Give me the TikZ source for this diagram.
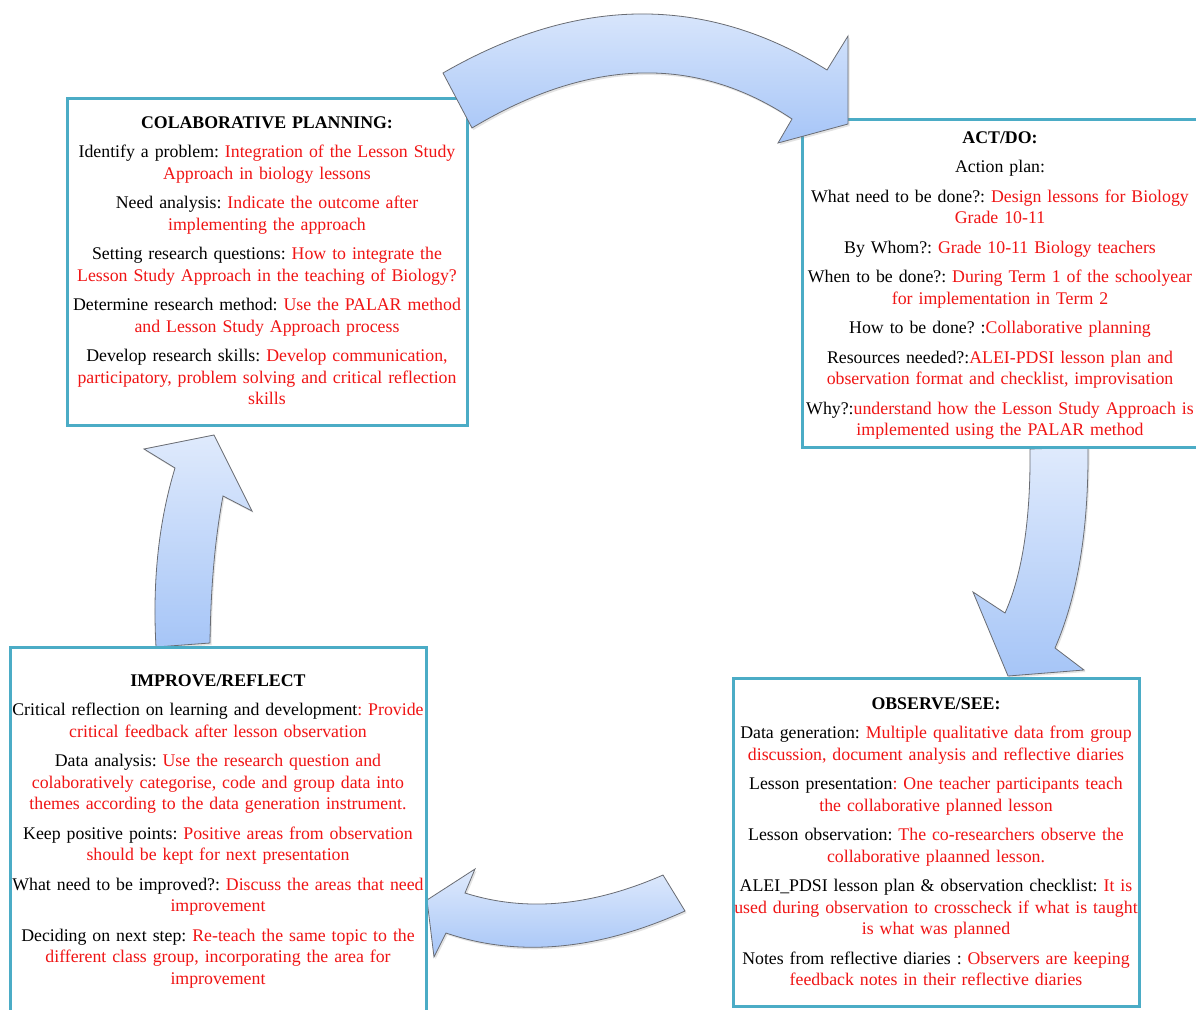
\documentclass[tikz,border=0pt]{standalone}
\usepackage{fontspec}
\setmainfont{Liberation Serif}
\usetikzlibrary{shadows}
\setlength{\parindent}{0pt}
\frenchspacing

\definecolor{frame}{RGB}{75,172,198}
\definecolor{txtred}{RGB}{240,20,20}
\definecolor{arrowtop}{RGB}{223,234,252}
\definecolor{arrowbot}{RGB}{166,197,247}
\definecolor{arrowedge}{RGB}{105,108,115}
\newcommand{\rtxt}[1]{\textcolor{txtred}{#1}}
\newcommand{\firstline}{\rule{0pt}{14pt}}

\tikzset{
  stagebox/.style={draw=frame, line width=3pt, fill=white, inner sep=0pt, outer sep=0pt},
  stagetext/.style={font=\fontsize{17.8}{21.5}\selectfont, align=center,
    text width=470pt, inner sep=0pt, anchor=north},
  cyclearrow/.style={draw=arrowedge, line width=0.8pt, line join=miter,
    top color=arrowtop, bottom color=arrowbot,
    drop shadow={opacity=0.22, shadow xshift=1.5pt, shadow yshift=-2pt}}
}

\begin{document}
\begin{tikzpicture}[x=1pt,y=-1pt]
\useasboundingbox (0,0) rectangle (1196,1009);
\fill[white] (0,0) rectangle (1196,1009);

% arrows that only touch the frames
% ACT/DO -> OBSERVE/SEE
\path[cyclearrow] (1030,449) -- (1088,447)
  .. controls (1088.7,529) and (1077.7,596) .. (1055,648)
  -- (1084,670) -- (1008,676) -- (973,592) -- (1005,613)
  .. controls (1022.3,574.3) and (1030.7,519.7) .. (1030,449) -- cycle;
% OBSERVE/SEE -> IMPROVE/REFLECT
\path[cyclearrow] (663,875)
  .. controls (591.7,906.3) and (525.7,912.3) .. (465,893)
  -- (475,869) -- (427,900) -- (434,957) -- (446,933)
  .. controls (518.3,957.7) and (598,950.3) .. (685,911) -- cycle;
% IMPROVE/REFLECT -> COLABORATIVE PLANNING
\path[cyclearrow] (156,647)
  .. controls (152.3,581.3) and (158.7,521.7) .. (175,468)
  -- (144,449) -- (214,435) -- (252,511) -- (223,496)
  .. controls (215,538.7) and (210.7,587.7) .. (210,643) -- cycle;

% the four stage frames
\node[stagebox, minimum width=400pt, minimum height=327pt] (plan) at (267,261.5) {};
\node[stagebox, minimum width=396pt, minimum height=328pt] (act) at (1000,283) {};
\node[stagebox, minimum width=416pt, minimum height=373pt] (reflect) at (218,833.5) {};
\node[stagebox, minimum width=406pt, minimum height=328pt] (observe) at (936,842) {};

% stage contents
\node[stagetext] (plantext) at (267,114) {\firstline\textbf{COLABORATIVE PLANNING:}\\[8pt]
Identify a problem: \rtxt{Integration of the Lesson Study\\Approach in biology lessons}\\[8pt]
Need analysis: \rtxt{Indicate the outcome after\\implementing the approach}\\[8pt]
Setting research questions: \rtxt{How to integrate the\\Lesson Study Approach in the teaching of Biology?}\\[8pt]
Determine research method: \rtxt{Use the PALAR method\\and Lesson Study Approach process}\\[8pt]
Develop research skills: \rtxt{Develop communication,\\participatory, problem solving and critical reflection\\skills}};

\node[stagetext] (acttext) at (1000,129) {\firstline\textbf{ACT/DO:}\\[8pt]
Action plan:\\[8pt]
What need to be done?: \rtxt{Design lessons for Biology\\Grade 10-11}\\[8pt]
By Whom?: \rtxt{Grade 10-11 Biology teachers}\\[8pt]
When to be done?: \rtxt{During Term 1 of the schoolyear\\for implementation in Term 2}\\[8pt]
How to be done? :\rtxt{Collaborative planning}\\[8pt]
Resources needed?:\rtxt{ALEI-PDSI lesson plan and\\observation format and checklist, improvisation}\\[8pt]
Why?:\rtxt{understand how the Lesson Study Approach is\\implemented using the PALAR method}};

\node[stagetext] (reflecttext) at (218,672) {\firstline\textbf{IMPROVE/REFLECT}\\[8pt]
Critical reflection on learning and development\rtxt{: Provide\\critical feedback after lesson observation}\\[8pt]
Data analysis: \rtxt{Use the research question and\\colaboratively categorise, code and group data into\\themes according to the data generation instrument.}\\[8pt]
Keep positive points: \rtxt{Positive areas from observation\\should be kept for next presentation}\\[8pt]
What need to be improved?: \rtxt{Discuss the areas that need\\improvement}\\[8pt]
Deciding on next step: \rtxt{Re-teach the same topic to the\\different class group, incorporating the area for\\improvement}};

\node[stagetext] (observetext) at (936,695) {\firstline\textbf{OBSERVE/SEE:}\\[8pt]
Data generation: \rtxt{Multiple qualitative data from group\\discussion, document analysis and reflective diaries}\\[8pt]
Lesson presentation\rtxt{: One teacher participants teach\\the collaborative planned lesson}\\[8pt]
Lesson observation: \rtxt{The co-researchers observe the\\collaborative plaanned lesson.}\\[8pt]
ALEI\_PDSI lesson plan \& observation checklist: \rtxt{It is\\used during observation to crosscheck if what is taught\\is what was planned}\\[8pt]
Notes from reflective diaries : \rtxt{Observers are keeping\\feedback notes in their reflective diaries}};

% COLABORATIVE PLANNING -> ACT/DO, lying over both frames
\path[cyclearrow] (443,73)
  .. controls (577.7,-4.7) and (705.7,-5.7) .. (827,70)
  -- (848,36) -- (848,124) -- (778,143) -- (792,119)
  .. controls (696,54.7) and (589.3,57.7) .. (472,128) -- cycle;
\end{tikzpicture}
\end{document}
